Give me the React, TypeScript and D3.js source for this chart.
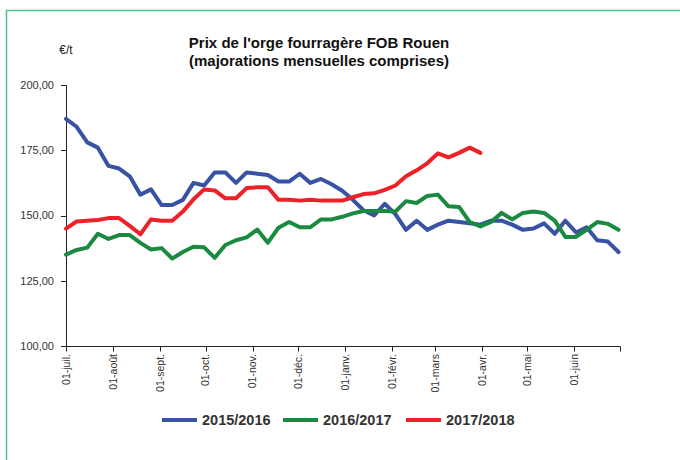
import React from 'react';
import * as d3 from 'd3';

const monthLabels = ['01-juil.', '01-août', '01-sept.', '01-oct.', '01-nov.', '01-déc.', '01-janv.', '01-févr.', '01-mars', '01-avr.', '01-mai', '01-juin'];
const yTicks = [100, 125, 150, 175, 200];
const seriesNames = ['2015/2016', '2016/2017', '2017/2018'];
const seriesColors = ['#3953a4', '#198a3f', '#ee2028'];

// weekly prices (€/t), starting 1 July
const s2015 = [187, 184, 178, 176, 169, 168, 165, 158, 160, 154, 154, 156, 162.5, 161.5, 166.5, 166.5, 162.5, 166.5, 166, 165.5, 163, 163, 166, 162.5, 164, 162, 159.5, 156, 152, 150, 154.5, 150.5, 144.5, 148, 144.5, 146.5, 148, 147.5, 147, 146.5, 148, 148, 146.5, 144.5, 145, 147, 143, 148, 143.5, 145.5, 140.5, 140, 136];
const s2016 = [135, 136.8, 137.7, 143, 141, 142.5, 142.5, 139.5, 137, 137.5, 133.5, 136, 138, 137.8, 133.8, 138.7, 140.5, 141.6, 144.6, 139.6, 145.3, 147.5, 145.5, 145.5, 148.5, 148.5, 149.5, 150.8, 151.7, 151.7, 151.7, 151.5, 155.5, 154.8, 157.5, 158, 153.5, 153.3, 147.5, 145.8, 147.5, 151, 148.5, 151, 151.5, 151, 148, 141.8, 141.8, 144.5, 147.5, 146.8, 144.5];
const s2017 = [145, 147.7, 148, 148.3, 149, 149, 146, 142.8, 148.5, 148, 148, 151.5, 156.2, 160, 159.6, 156.6, 156.6, 160.5, 160.8, 160.8, 156, 156, 155.7, 156, 155.7, 155.7, 155.7, 157, 158.2, 158.5, 159.8, 161.5, 165, 167.3, 170, 173.8, 172.3, 174, 176, 174];

const FONT = "'Liberation Sans', Arial, sans-serif";

export default function App() {
  const start = new Date(2017, 6, 1);
  const end = new Date(2018, 6, 1);
  const x = d3.scaleTime().domain([start, end]).range([66, 620]);
  const y = d3.scaleLinear().domain([100, 200]).range([346, 85]);
  const dateAt = (i: number) => d3.timeDay.offset(start, 7 * i);
  const line = d3
    .line<number>()
    .x((_, i) => x(dateAt(i)))
    .y((d) => y(d));
  const monthTicks = d3.timeMonth.range(start, d3.timeDay.offset(end, 1));
  const fmt = (v: number) => d3.format('.2f')(v).replace('.', ',');
  const series = [s2015, s2016, s2017];
  const legendX = [162, 283, 406];

  return (
    <svg width={680} height={460} style={{ position: 'absolute', left: 0, top: 0, background: '#fff' }} fontFamily={FONT}>
      <rect x={6.5} y={10.5} width={700} height={500} fill="none" stroke="#4cc38a" strokeWidth={1.5} />
      <text x={319} y={48} textAnchor="middle" fontWeight="bold" fontSize={15} fill="#111">
        Prix de l'orge fourragère FOB Rouen
      </text>
      <text x={319} y={66} textAnchor="middle" fontWeight="bold" fontSize={15} fill="#111">
        (majorations mensuelles comprises)
      </text>
      <text x={66} y={54} textAnchor="middle" fontSize={12} fill="#222">€/t</text>

      {/* y axis */}
      <line x1={66.5} x2={66.5} y1={y(200)} y2={y(100)} stroke="#222" strokeWidth={1} />
      {yTicks.map((t) => (
        <g key={t}>
          <line x1={61} x2={66.5} y1={Math.round(y(t)) + 0.5} y2={Math.round(y(t)) + 0.5} stroke="#222" />
          <text x={54} y={y(t)} dy="0.35em" textAnchor="end" fontSize={11} fill="#333">
            {fmt(t)}
          </text>
        </g>
      ))}

      {/* x axis */}
      <line x1={66} x2={620.5} y1={346.5} y2={346.5} stroke="#222" strokeWidth={1} />
      {monthTicks.map((d, i) => (
        <g key={i}>
          <line x1={Math.round(x(d)) + 0.5} x2={Math.round(x(d)) + 0.5} y1={346.5} y2={351.5} stroke="#222" />
          {i < monthLabels.length && (
            <text
              transform={`translate(${x(d)},354) rotate(-90)`}
              textAnchor="end"
              dy="0.35em"
              fontSize={10.5}
              fill="#333"
            >
              {monthLabels[i]}
            </text>
          )}
        </g>
      ))}

      {/* series */}
      {series.map((s, k) => (
        <path
          key={k}
          d={line(s) || ''}
          fill="none"
          stroke={seriesColors[k]}
          strokeWidth={4}
          strokeLinejoin="round"
          strokeLinecap="round"
        />
      ))}

      {/* legend */}
      {seriesNames.map((n, k) => (
        <g key={n}>
          <line x1={legendX[k]} x2={legendX[k] + 35} y1={420} y2={420} stroke={seriesColors[k]} strokeWidth={4} />
          <text x={legendX[k] + 40} y={425} fontSize={14.5} fontWeight="bold" fill="#333">
            {n}
          </text>
        </g>
      ))}
    </svg>
  );
}
